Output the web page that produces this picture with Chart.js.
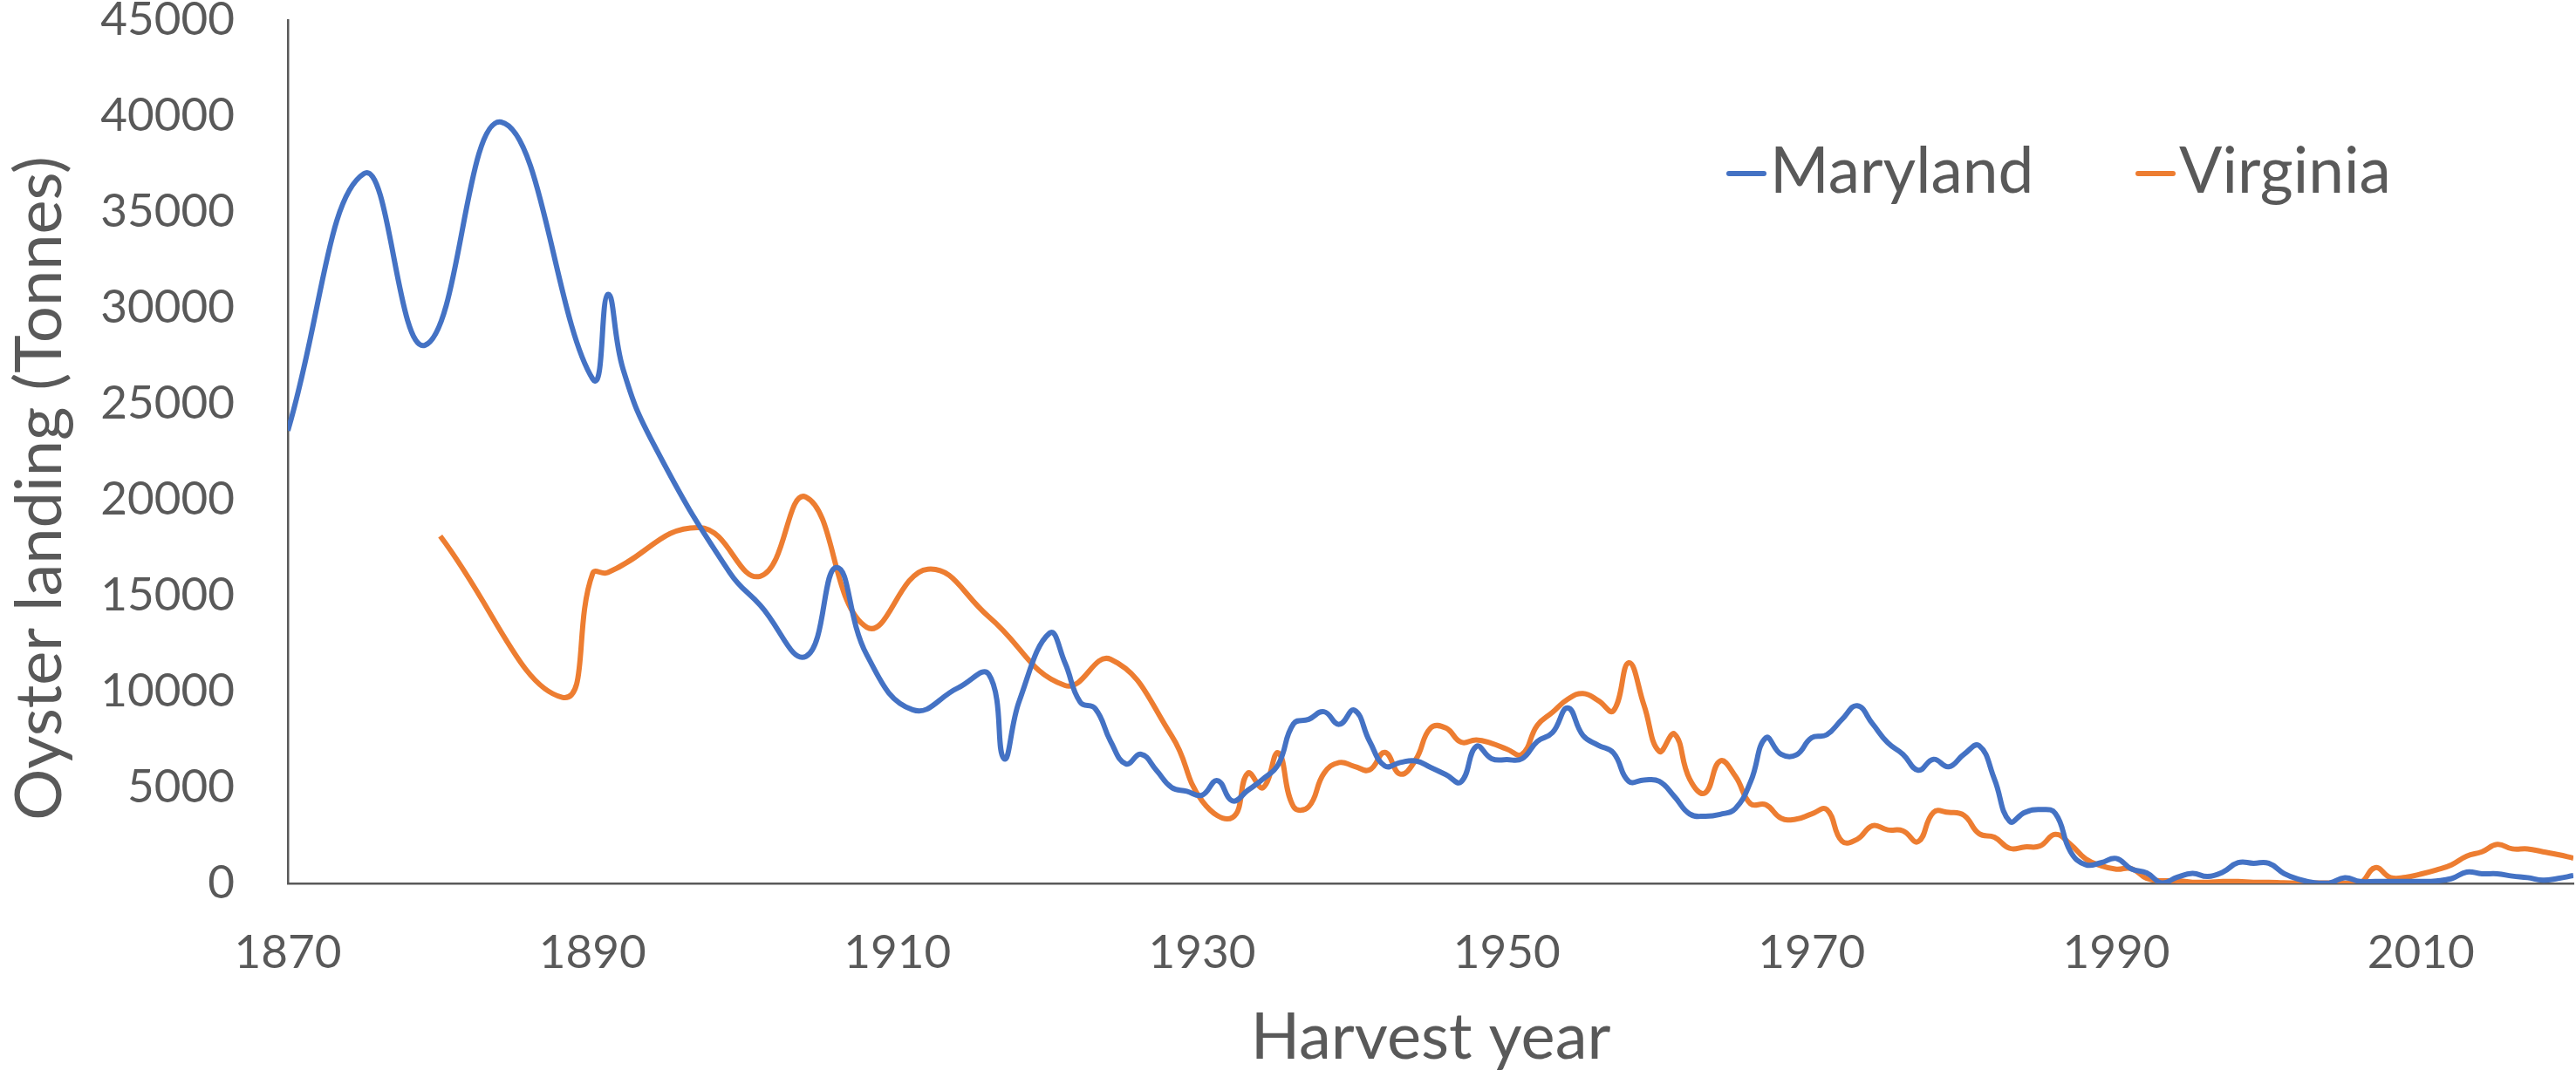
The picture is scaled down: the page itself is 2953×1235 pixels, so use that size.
<!DOCTYPE html>
<html>
<head>
<meta charset="utf-8">
<title>Oyster landing</title>
<script src="https://cdn.jsdelivr.net/npm/chart.js@4.4.1/dist/chart.umd.min.js"></script>
<style>
html, body { margin:0; padding:0; background:#ffffff; }
canvas { display:block; }
</style>
</head>
<body>

<canvas id="oysterChart" width="2953" height="1235" style="width:2953px;height:1235px"></canvas>

<script>

// ================= DATA =================

const yearTicks = [1870, 1890, 1910, 1930, 1950, 1970, 1990, 2010];

const marylandYears = [
1870,1875,1879,1884,1890,1891,1892,1894,1899,1901,
1904,1906,1908,1911,1914,1916,1917,1918,1920,
1921,1922,1923,1924,1925,1926,1927,1928,1929,1930,
1931,1932,1933,1934,1935,1936,1937,1938,1939,1940,
1941,1942,1943,1944,1945,1946,1947,1948,1949,1950,
1951,1952,1953,1954,1955,1956,1957,1958,1959,1960,
1961,1962,1963,1964,1965,1966,1967,1968,1969,1970,
1971,1972,1973,1974,1975,1976,1977,1978,1979,1980,
1981,1982,1983,1984,1985,1986,1987,1988,1989,1990,
1991,1992,1993,1994,1995,1996,1997,1998,1999,2000,
2001,2002,2003,2004,2005,2006,2007,2008,2009,2010,
2011,2012,2013,2014,2015,2016,2017,2018,2019,2020
];

const marylandLanding = [
23600,37000,28050,39680,26300,30700,26800,22900,16200,14500,
11830,16470,11900,9050,10200,10900,6500,9500,13050,
11500,9450,9100,7400,6230,6730,5900,5000,4800,4600,
5360,4300,4850,5440,6200,8320,8550,8950,8290,9030,
7400,6120,6300,6390,6050,5670,5290,7140,6500,6450,
6500,7400,7860,9150,7710,7200,6800,5320,5390,5320,
4530,3620,3500,3600,3900,5300,7590,6730,6700,7590,
7750,8550,9260,8320,7330,6730,5900,6470,6080,6730,
7180,5440,3240,3700,3850,3650,1650,970,1080,1300,
750,550,20,320,520,360,590,1080,1050,1050,
520,210,40,20,300,100,100,100,100,100,
130,250,590,500,500,380,300,170,260,410
];

const virginiaYears = [
1880,1888,1890,1891,1897,1901,1904,1908,1912,1916,
1921,1924,1928,1930,1932,1933,1934,1935,1936,1937,
1938,1939,1940,1941,1942,1943,1944,1945,1946,1947,
1948,1949,1950,1951,1952,1953,1954,1955,1956,1957,
1958,1959,1960,1961,1962,1963,1964,1965,1966,1967,
1968,1969,1970,1971,1972,1973,1974,1975,1976,1977,
1978,1979,1980,1981,1982,1983,1984,1985,1986,1987,
1988,1989,1990,1991,1992,1993,1994,1995,1996,1997,
1998,1999,2000,2001,2002,2003,2004,2005,2006,2007,
2008,2009,2010,2011,2012,2013,2014,2015,2016,2017,
2018,2019,2020
];

const virginiaLanding = [
18100,9700,16150,16200,18550,16010,20140,13350,16380,13900,
10320,11680,7700,4300,3440,5740,4990,6800,4000,4000,
5740,6300,6100,5920,6830,5700,6420,8100,8100,7360,
7480,7300,7000,6730,8240,8920,9600,9900,9530,9000,
11500,9300,6880,7790,5440,4710,6380,5590,4150,4100,
3400,3350,3620,3850,2200,2300,3010,2790,2740,2180,
3700,3700,3550,2590,2410,1830,1900,1950,2560,2030,
1270,920,740,770,260,140,140,60,60,100,
100,60,60,30,20,20,20,10,0,820,
300,320,490,700,970,1420,1650,2030,1800,1800,
1650,1500,1320
];


// ================= HELPERS =================

function toPoints(years, values){
  return years.map(function(y, i){ return { x:y, y:values[i] }; });
}

const textGrey = "#595959";
const fontFamily = "Lato, 'Liberation Sans', sans-serif";


// inline legend in the upper right of the plot + the rotated y title
const chartText = {
  id:"chartText",
  afterDraw(chart){
    const ctx = chart.ctx;
    const starts = [1982, 2451];
    ctx.save();
    ctx.font = "73px " + fontFamily;
    ctx.textBaseline = "alphabetic";
    ctx.textAlign = "left";
    chart.data.datasets.forEach(function(ds, i){
      const x = starts[i];
      ctx.strokeStyle = ds.borderColor;
      ctx.lineWidth = 6;
      ctx.lineCap = "round";
      ctx.beginPath();
      ctx.moveTo(x, 199);
      ctx.lineTo(x + 40, 199);
      ctx.stroke();
      ctx.fillStyle = textGrey;
      ctx.fillText(ds.label, x + 47, 221);
    });
    ctx.restore();

    ctx.save();
    ctx.translate(46, 560);
    ctx.rotate(-Math.PI / 2);
    ctx.font = "74px " + fontFamily;
    ctx.fillStyle = textGrey;
    ctx.textAlign = "center";
    ctx.textBaseline = "middle";
    ctx.fillText("Oyster landing (Tonnes)", 0, 0);
    ctx.restore();
  }
};


// ================= OYSTER LANDINGS CHART =================

const oysterChart = document.getElementById("oysterChart");

if(oysterChart){

new Chart(oysterChart, {

type:"line",

data:{
  datasets:[
    {
      label:"Maryland",
      data:toPoints(marylandYears, marylandLanding),
      borderColor:"#4472C4",
      borderWidth:6,
      pointRadius:0,
      tension:0.45,
      fill:false
    },
    {
      label:"Virginia",
      data:toPoints(virginiaYears, virginiaLanding),
      borderColor:"#ED7D31",
      borderWidth:6,
      pointRadius:0,
      tension:0.45,
      fill:false
    }
  ]
},

options:{
  responsive:false,
  animation:false,
  devicePixelRatio:1,
  layout:{ padding:{ top:23, right:3, left:0, bottom:0 } },
  plugins:{
    legend:{ display:false },
    tooltip:{ enabled:false }
  },
  scales:{
    x:{
      type:"linear",
      min:1870,
      max:2020,
      afterBuildTicks(scale){
        scale.ticks = yearTicks.map(function(v){ return { value:v }; });
      },
      afterFit(scale){
        scale.height = 222;
        scale.paddingLeft = 0;
        scale.paddingRight = 0;
      },
      grid:{ display:false, drawTicks:false },
      border:{ color:"#5a5a5a", width:2.5 },
      ticks:{
        color:textGrey,
        font:{ family:fontFamily, size:53 },
        padding:48,
        maxRotation:0,
        autoSkip:false,
        callback:function(v){ return String(v); }
      },
      title:{
        display:true,
        text:"Harvest year",
        color:textGrey,
        font:{ family:fontFamily, size:74, lineHeight:1 },
        padding:{ top:0, bottom:8 }
      }
    },
    y:{
      min:0,
      max:45000,
      afterFit(scale){
        scale.width = 330;
        scale.paddingTop = 0;
        scale.paddingBottom = 0;
      },
      grid:{ display:false, drawTicks:false },
      border:{ color:"#5a5a5a", width:2.5 },
      ticks:{
        stepSize:5000,
        color:textGrey,
        font:{ family:fontFamily, size:53 },
        padding:61,
        callback:function(v){ return String(v); }
      }
    }
  }
},

plugins:[chartText]

});

}

</script>
</body>
</html>
